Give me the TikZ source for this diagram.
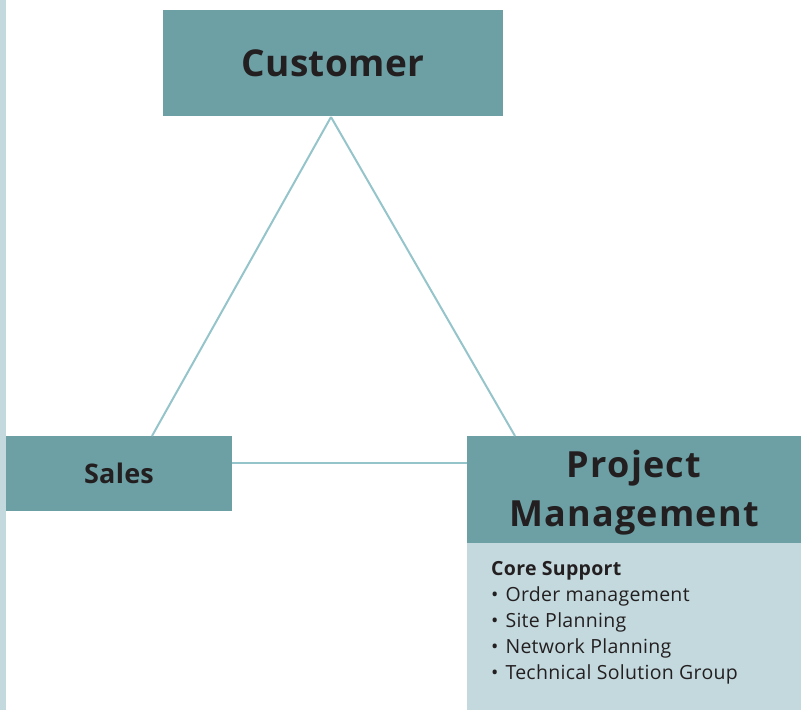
\documentclass[tikz,border=0pt]{standalone}
\usepackage{fontspec}
\setmainfont{Open Sans}
\definecolor{darkteal}{HTML}{6CA0A5}
\definecolor{lightteal}{HTML}{C3D9DE}
\definecolor{linecol}{HTML}{95C4CA}
\definecolor{txt}{HTML}{231F20}
\tikzset{
  tealbox/.style={fill=darkteal, draw=none, inner sep=0pt, text=txt, align=center},
  conn/.style={draw=linecol, line width=2pt},
}
\begin{document}
\begin{tikzpicture}[x=1pt,y=-1pt]
\useasboundingbox (0,0) rectangle (801,710);
\fill[lightteal] (0,0) rectangle (6,710);
\coordinate (apex) at (331,117);
\coordinate (salestop) at (152,436);
\coordinate (pmtop) at (515,436);
\node[tealbox, minimum width=340pt, minimum height=106pt, font=\bfseries\fontsize{37}{44}\selectfont\addfontfeature{LetterSpace=1}] (cust) at (333,63) {Customer};
\node[tealbox, minimum width=226pt, minimum height=75pt, font=\bfseries\fontsize{27}{32}\selectfont\addfontfeature{LetterSpace=1}] (sales) at (119,473.5) {Sales};
\node[tealbox, minimum width=334pt, minimum height=107pt, font=\bfseries\fontsize{36}{49}\selectfont\addfontfeature{LetterSpace=3.5}] (pm) at (634,489.5) {\rule{0pt}{34pt}Project\\Management};
\node[fill=lightteal, inner sep=0pt, minimum width=334pt, minimum height=167pt, anchor=north west] (body) at (pm.south west) {};
\node[anchor=north west, inner sep=0pt, align=left, text=txt, font=\fontsize{19.5}{26}\selectfont\addfontfeature{LetterSpace=1.5}] (list) at (491,561) {\textbf{Core Support}\\\textbullet\hspace{7pt}Order management\\\textbullet\hspace{7pt}Site Planning\\\textbullet\hspace{7pt}Network Planning\\\textbullet\hspace{7pt}Technical Solution Group};
\draw[conn] (apex) -- (salestop);
\draw[conn] (apex) -- (pmtop);
\draw[conn] (sales.east |- 0,463) -- (pm.west |- 0,463);
\end{tikzpicture}
\end{document}
